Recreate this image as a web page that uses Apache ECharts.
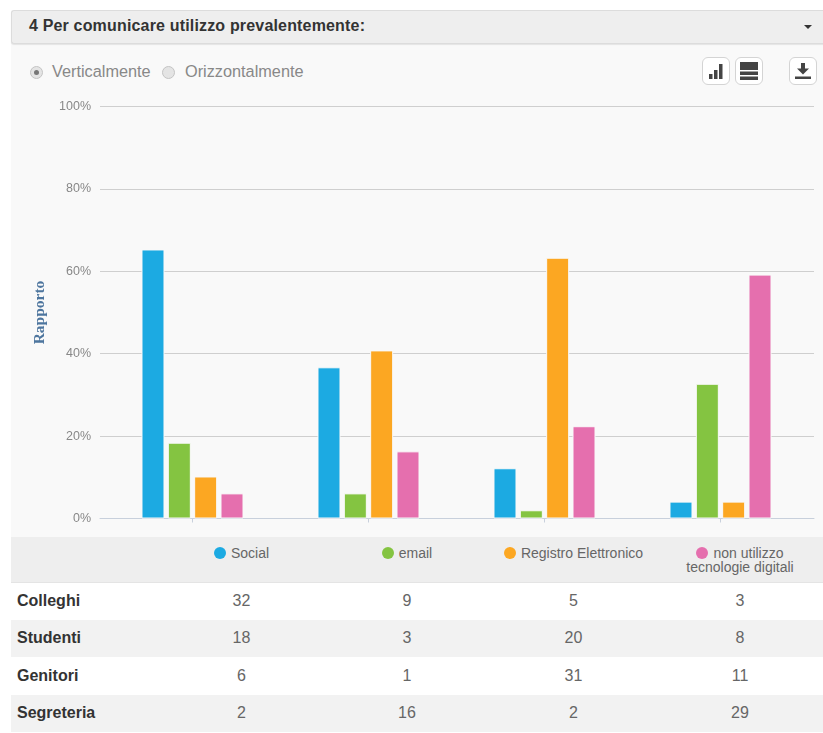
<!DOCTYPE html>
<html><head><meta charset="utf-8">
<script src="https://cdn.jsdelivr.net/npm/echarts@6/dist/echarts.min.js"></script>
<style>
html,body{margin:0;padding:0;background:#fff;overflow:hidden}
body{width:823px;height:733px;position:relative;font-family:"Liberation Sans",Arial,sans-serif}
#panel{position:absolute;left:11px;top:43px;width:812px;height:494px;background:#f9f9f9}
#head{position:absolute;left:11px;top:10px;width:812px;height:32px;background:#eeeeee;border:1px solid #dcdcdc;border-right:none;border-radius:3px 0 0 3px;box-sizing:content-box;box-shadow:0 1px 1px #e4e4e4}
#head span{position:absolute;left:17px;top:6px;font-size:16px;font-weight:bold;color:#333;letter-spacing:.17px;white-space:nowrap}
#caret{position:absolute;left:804px;top:25px;width:0;height:0;border-left:4px solid transparent;border-right:4px solid transparent;border-top:4px solid #333}
.radio{position:absolute;top:66px;width:13px;height:13px;border-radius:50%;background:#e4e4e4;border:1px solid #c4c4c4;box-sizing:border-box}
.radio.on::after{content:"";position:absolute;left:3px;top:3px;width:5px;height:5px;border-radius:50%;background:#777}
.rl{position:absolute;top:62px;font-size:16.3px;color:#888;white-space:nowrap}
.btn{position:absolute;top:57px;width:28px;height:28px;box-sizing:border-box;background:#fff;border:1px solid #d4d4d4;border-radius:6px}
.btn svg{position:absolute;left:0;top:0}
#chart{position:absolute;left:0;top:0;width:823px;height:537px}
#tbl{position:absolute;left:11px;top:537px;width:812px;border-collapse:collapse;table-layout:fixed;font-size:16px;color:#666}
#tbl th{background:#eeeeee;height:45px;padding:9px 0 0;font-weight:normal;font-size:14px;color:#666;vertical-align:top;line-height:14px;text-align:center;box-sizing:border-box;border-bottom:1px solid #e4e4e4}
#tbl td{text-align:center;height:37.5px;padding:0;box-sizing:border-box}
#tbl td:first-child{text-align:left;padding-left:6px;font-weight:bold;color:#333;font-size:16px}
#tbl tr:nth-child(odd) td{background:#f2f2f2}
#tbl tr:nth-child(even) td{background:#fff}
.dot{display:inline-block;width:12px;height:12px;border-radius:50%;margin-right:5px;vertical-align:-0.5px}
</style></head><body>
<div id="panel"></div>
<div id="head"><span>4 Per comunicare utilizzo prevalentemente:</span></div>
<div id="caret"></div>
<div class="radio on" style="left:30px"></div><div class="rl" style="left:52px">Verticalmente</div>
<div class="radio" style="left:162px"></div><div class="rl" style="left:185px">Orizzontalmente</div>
<div class="btn" style="left:702px"><svg width="26" height="26"><g fill="#444"><rect x="6" y="16" width="3.5" height="5"/><rect x="11" y="12" width="3.5" height="9"/><rect x="16" y="6" width="3.5" height="15"/></g></svg></div>
<div class="btn" style="left:735px"><svg width="26" height="26"><g fill="#444"><rect x="4" y="4" width="18" height="8"/><rect x="4" y="13.5" width="18" height="3.5"/><rect x="4" y="18.5" width="18" height="3.5"/></g></svg></div>
<div class="btn" style="left:789px"><svg width="26" height="26"><g fill="#444"><rect x="11" y="5" width="4" height="6"/><path d="M7 10.5h12l-6 6z"/><rect x="5" y="18.5" width="16" height="2.5"/></g></svg></div>
<div id="chart"></div>
<table id="tbl"></table>
<script>
var categories = ['Colleghi', 'Studenti', 'Genitori', 'Segreteria'];
var seriesNames = ['Social', 'email', 'Registro Elettronico', 'non utilizzo<br>tecnologie digitali'];
var seriesColors = ['#1caae2', '#84c441', '#fca722', '#e56fae'];
var yTicks = ['0%', '20%', '40%', '60%', '80%', '100%'];

// percentages drawn as bars, by series (one value per category)
var socialPct   = [65.3, 36.7, 12.2, 4.1];
var emailPct    = [18.4, 6.1, 2.0, 32.7];
var registroPct = [10.2, 40.8, 63.3, 4.1];
var nonUtilPct  = [6.1, 16.3, 22.4, 59.2];

// counts shown in the table, by series
var socialCount   = [32, 18, 6, 2];
var emailCount    = [9, 3, 1, 16];
var registroCount = [5, 20, 31, 2];
var nonUtilCount  = [3, 8, 11, 29];

var pctSeries = [socialPct, emailPct, registroPct, nonUtilPct];
var countSeries = [socialCount, emailCount, registroCount, nonUtilCount];

var html = '<colgroup><col style="width:148px"><col style="width:165px"><col style="width:166px"><col style="width:167px"><col style="width:166px"></colgroup>';
html += '<tr><th></th>' + seriesNames.map(function (n, i) {
  return '<th><span class="dot" style="background:' + seriesColors[i] + '"></span>' + n + '</th>';
}).join('') + '</tr>';
categories.forEach(function (c, r) {
  html += '<tr><td>' + c + '</td>' + countSeries.map(function (s) { return '<td>' + s[r] + '</td>'; }).join('') + '</tr>';
});
document.getElementById('tbl').innerHTML = html;

var chart = echarts.init(document.getElementById('chart'), null, {renderer: 'canvas'});
chart.setOption({
  animation: false,
  backgroundColor: 'transparent',
  grid: [
    {left: 100, right: 9, top: 106.5, height: 412},
    {left: 104.5, width: 704, top: 106.5, height: 412}
  ],
  xAxis: [
    {gridIndex: 0, type: 'category', data: categories, boundaryGap: true, axisTick: {show: false}, axisLabel: {show: false},
     axisLine: {show: true, lineStyle: {color: '#c8d0dc', width: 1}}},
    {gridIndex: 1, type: 'category', data: categories, axisLabel: {show: false}, axisLine: {show: false},
     axisTick: {show: true, alignWithLabel: true, length: 4, lineStyle: {color: '#c8d0dc'}}}
  ],
  yAxis: [
    {gridIndex: 0, type: 'value', min: 0, max: 100, interval: 20,
     name: 'Rapporto', nameLocation: 'middle', nameGap: 52, nameRotate: 90,
     nameTextStyle: {color: '#4d759e', fontFamily: 'Liberation Serif', fontWeight: 'bold', fontSize: 15.5},
     axisLine: {show: false}, axisTick: {show: false},
     axisLabel: {color: '#888', fontSize: 12.5, margin: 9, fontFamily: 'Liberation Sans', padding: [2, 0, 0, 0],
       formatter: function (v) { return yTicks[v / 20]; }},
     splitLine: {show: true, lineStyle: {color: '#cfcfcf', width: 1}}},
    {gridIndex: 1, type: 'value', min: 0, max: 100, interval: 20, show: false, splitLine: {show: false}}
  ],
  series: pctSeries.map(function (d, i) {
    return {
      type: 'bar', name: seriesNames[i].replace('<br>', ' '), xAxisIndex: 1, yAxisIndex: 1, data: d,
      barWidth: 23, barGap: '14.5%',
      itemStyle: {color: seriesColors[i], borderColor: '#f9f9f9', borderWidth: 1}
    };
  })
});
</script>
</body></html>
